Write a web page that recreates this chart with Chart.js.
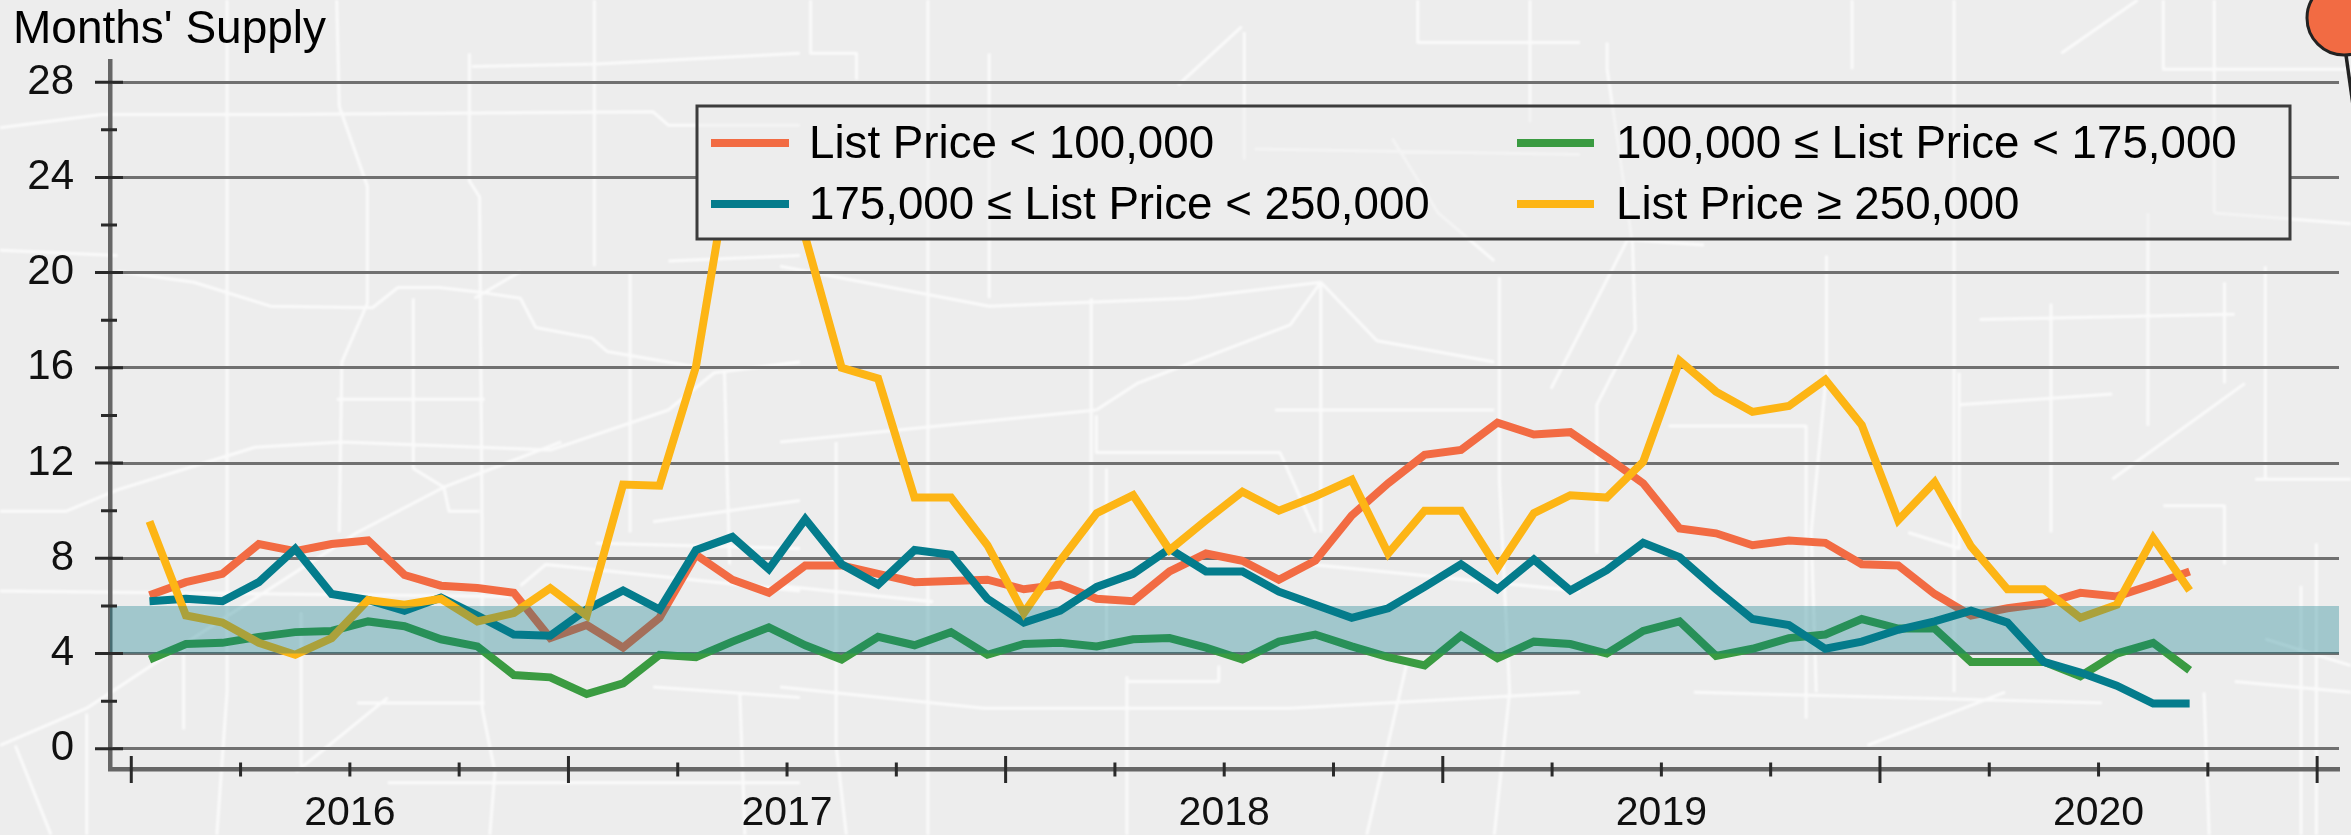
<!DOCTYPE html>
<html>
<head>
<meta charset="utf-8">
<title>Months' Supply</title>
<script src="https://cdn.jsdelivr.net/npm/chart.js@4"></script>
<style>html,body{margin:0;padding:0;background:#ececec}canvas{display:block}</style>
</head>
<body>
<canvas id="c" width="2351" height="835"></canvas>
<script>
const months = ['2015-07','2015-08','2015-09','2015-10','2015-11','2015-12',
 '2016-01','2016-02','2016-03','2016-04','2016-05','2016-06','2016-07','2016-08','2016-09','2016-10','2016-11','2016-12',
 '2017-01','2017-02','2017-03','2017-04','2017-05','2017-06','2017-07','2017-08','2017-09','2017-10','2017-11','2017-12',
 '2018-01','2018-02','2018-03','2018-04','2018-05','2018-06','2018-07','2018-08','2018-09','2018-10','2018-11','2018-12',
 '2019-01','2019-02','2019-03','2019-04','2019-05','2019-06','2019-07','2019-08','2019-09','2019-10','2019-11','2019-12',
 '2020-01','2020-02','2020-03'];
const under100k = [6.45,7.0,7.35,8.6,8.3,8.6,8.75,7.3,6.85,6.75,6.55,4.65,5.2,4.25,5.5,8.15,7.1,6.55,
 7.7,7.7,7.35,7.0,7.05,7.1,6.7,6.9,6.3,6.2,7.45,8.2,7.9,7.1,7.9,9.8,11.15,12.35,12.55,13.7,13.2,13.3,
 12.25,11.15,9.25,9.05,8.55,8.75,8.65,7.75,7.7,6.5,5.6,5.9,6.1,6.55,6.4,6.9,7.45];
const from100kTo175k = [3.75,4.4,4.45,4.7,4.9,4.95,5.35,5.15,4.6,4.3,3.1,3.0,2.3,2.75,3.95,3.85,4.5,5.1,
 4.35,3.75,4.7,4.35,4.9,3.95,4.4,4.45,4.3,4.6,4.65,4.25,3.75,4.5,4.8,4.3,3.85,3.5,4.75,3.8,4.5,4.4,
 4.0,4.95,5.35,3.9,4.2,4.65,4.8,5.45,5.05,5.05,3.65,3.65,3.65,3.05,4.0,4.45,3.3];
const from175kTo250k = [6.2,6.3,6.2,7.0,8.4,6.5,6.25,5.8,6.35,5.6,4.8,4.75,5.85,6.65,5.85,8.35,8.9,7.55,
 9.65,7.75,6.9,8.35,8.15,6.3,5.3,5.8,6.8,7.35,8.4,7.45,7.45,6.6,6.05,5.5,5.9,6.8,7.75,6.7,7.95,6.65,
 7.5,8.65,8.05,6.7,5.45,5.2,4.2,4.5,5.0,5.35,5.8,5.3,3.65,3.2,2.65,1.9,1.9];
const over250k = [9.55,5.6,5.3,4.45,3.95,4.65,6.25,6.05,6.3,5.35,5.7,6.75,5.6,11.1,11.05,16.05,25.2,26.2,
 21.5,16.0,15.55,10.55,10.55,8.55,5.7,7.9,9.9,10.65,8.35,9.6,10.8,10.0,10.6,11.3,8.2,10.0,10.0,7.6,9.9,10.65,
 10.55,12.05,16.3,15.0,14.15,14.4,15.5,13.6,9.6,11.2,8.5,6.7,6.7,5.5,6.05,8.85,6.65];
const seriesNames = ['List Price < 100,000','100,000 \u2264 List Price < 175,000','175,000 \u2264 List Price < 250,000','List Price \u2265 250,000'];
const seriesColors = ['#f26b43','#3a9b41','#047c8c','#fdb515'];
const yTickValues = [0,2,4,6,8,10,12,14,16,18,20,22,24,26,28];
const xTickValues = [-0.5,2.5,5.5,8.5,11.5,14.5,17.5,20.5,23.5,26.5,29.5,32.5,35.5,38.5,41.5,44.5,47.5,50.5,53.5,56.5,59.5];
const yearLabels = {5.5:'2016',17.5:'2017',29.5:'2018',41.5:'2019',53.5:'2020'};
const balancedMarket = [4,6];
const yLimits = [-0.87,28.88];
const xLimits = [-1.084,60.1];
const FONT = '"Liberation Sans", Arial, sans-serif';

// Decorative street-map backdrop: [panel x offset, polyline in panel units (1.96 / 1.878 px)]
const roadsMain = [
 [0,[0,240,200,215,550,215,1280,210,1310,235,1568,235]],
 [0,[230,510,380,530,530,575,730,578,780,540,860,540,950,550,1020,560,1050,615,1160,635,1190,660,1370,690]],
 [0,[445,0,445,1300,425,1568]],[0,[660,0,665,200,720,350,720,570,670,680,665,1000]],
 [0,[920,100,920,340,940,370,945,1000,945,1330,970,1450,960,1568]],[0,[1165,0,1165,500]],[0,[1235,510,1235,1000]],
 [0,[0,960,130,960,230,920,500,840,670,830,1080,845,1310,770,1400,700,1568,680]],
 [0,[0,1400,170,1330,360,1210,700,1000,870,915,1100,830]],[0,[30,1400,100,1568]],[0,[170,1340,170,1568]],[0,[360,1210,360,1370]],
 [0,[660,750,950,750]],[0,[810,560,810,880,870,915,880,960,940,960]],[0,[700,1320,950,1320]],[0,[760,1310,580,1450]],
 [0,[1168,1020,1568,1030]],[0,[1020,1100,1070,1060,1568,1110]],[0,[590,1150,590,1440]],[0,[0,1110,1000,1120]],
 [0,[760,1470,1568,1470]],[0,[1280,980,1568,940]],[0,[1420,700,1430,1060]],[0,[0,470,230,480]],[0,[1020,510,930,560]],
 [0,[925,125,1170,120,1568,100]],[0,[1310,490,1568,480]],[0,[1280,1290,1568,1310]],[0,[1450,1300,1460,1568]],
 [780,[290,0,290,1568]],[780,[110,830,110,1400,130,1568]],[780,[610,560,610,1130]],[780,[1060,530,1060,1000]],
 [780,[1410,520,1410,900,1430,1300,1400,1568]],[780,[60,0,60,100,150,100,150,150]],[780,[910,60,910,300]],[780,[905,50,780,160]],
 [780,[0,500,410,575,800,560,1060,530,1170,640,1400,680]],[780,[620,780,620,850,980,850,1050,1000]],
 [780,[620,770,700,720,1000,610,1060,530]],[780,[0,830,620,770]],[780,[970,770,1400,770]],[780,[640,880,640,1230]],
 [780,[0,1100,300,1130]],[780,[1040,1060,1568,1110]],[780,[0,1290,400,1330,1000,1330,1568,1300]],
 [780,[680,1270,680,1568]],[780,[860,1250,860,1280,680,1280]],[780,[1230,1240,1150,1568]],[780,[410,100,410,560]],
 [780,[1250,0,1250,80,1568,80]],[780,[930,280,1568,290]],[780,[1200,260,1290,400,1400,490]],[780,[1470,0,1470,230]],
 [1551,[0,730,150,450,300,460]],[1551,[110,80,110,130,160,460,165,620,90,760,90,1040]],[1551,[590,0,590,130]],
 [1551,[790,0,790,1300]],[1551,[540,480,540,700,510,1000,520,1300]],[1551,[980,570,980,1000]],[1551,[1170,400,1170,800]],
 [1551,[1320,530,1320,720]],[1551,[840,600,1340,590]],[1551,[1100,740,800,760]],[1551,[700,1000,800,1030,800,700]],
 [1551,[1360,720,1100,900]],[1551,[1200,950,1320,950,1320,1060]],[1551,[230,800,500,800,500,1350]],[1551,[280,1300,1080,1320]],
 [1551,[620,1400,890,1300]],[1551,[1380,900,1568,900]],[1551,[1400,1200,1568,1250]],[1551,[1500,1020,1500,1568]],
 [1551,[1470,1100,1470,1568]],[1551,[1340,1280,1568,1300]],[1551,[1300,0,1300,400]],[1551,[1000,100,1150,0]],
 [1551,[1200,0,1200,130,1568,130]],[1551,[1300,400,1568,420]],[1551,[1400,500,1400,900]],[1551,[1280,1300,1290,1568]]
];

function traceRoads(ctx){
  ctx.beginPath();
  for(const [off,p] of roadsMain){
    for(let i=0;i<p.length;i+=2){
      const x=off+p[i]/1.96,y=p[i+1]/1.878;
      if(i===0)ctx.moveTo(x,y);else ctx.lineTo(x,y);
    }
  }
}
const mapBackdrop = {
  id:'mapBackdrop',
  beforeDraw(chart){
    const ctx=chart.ctx;
    ctx.save();
    ctx.fillStyle='#ededed';
    ctx.fillRect(0,0,chart.width,chart.height);
    ctx.filter='blur(0.8px)';
    ctx.strokeStyle='rgba(255,255,255,0.75)';
    ctx.lineWidth=3;
    ctx.lineJoin='round';
    traceRoads(ctx);
    ctx.stroke();
    ctx.restore();
  }
};
const axisTicks = {
  id:'axisTicks',
  afterDatasetsDraw(chart){
    const ctx=chart.ctx,xs=chart.scales.x,ys=chart.scales.y;
    const xAxisY=xs.top,yAxisX=ys.right;
    ctx.save();
    ctx.strokeStyle='#2a2a2a';
    ctx.lineWidth=3;
    ctx.beginPath();
    xTickValues.forEach((v,i)=>{
      const x=xs.getPixelForValue(v),h=i%4===0?13.5:7;
      ctx.moveTo(x,xAxisY-h);ctx.lineTo(x,xAxisY+h);
    });
    yTickValues.forEach(v=>{
      const y=ys.getPixelForValue(v);
      if(v%4===0){ctx.moveTo(yAxisX-15,y);ctx.lineTo(yAxisX+13,y);}
      else{ctx.moveTo(yAxisX-9,y);ctx.lineTo(yAxisX+7,y);}
    });
    ctx.stroke();
    ctx.restore();
  }
};
const legendBox = {
  id:'legendBox',
  afterDraw(chart){
    const ctx=chart.ctx;
    const L=697,T=106,R=2290,B=239;
    ctx.save();
    ctx.beginPath();ctx.rect(L,T,R-L,B-T);ctx.clip();
    ctx.fillStyle='#ededed';ctx.fillRect(L,T,R-L,B-T);
    ctx.filter='blur(0.8px)';
    ctx.strokeStyle='rgba(255,255,255,0.4)';ctx.lineWidth=3;
    traceRoads(ctx);ctx.stroke();
    ctx.restore();
    ctx.save();
    ctx.strokeStyle='#3c3c3c';ctx.lineWidth=3;
    ctx.strokeRect(L,T,R-L,B-T);
    const cells=[[711,789,809,143,0],[1517,1594,1616,143,1],[711,789,809,204,2],[1517,1594,1616,204,3]];
    ctx.font='45.7px '+FONT;
    ctx.textBaseline='middle';ctx.textAlign='left';
    for(const [x0,x1,tx,y,k] of cells){
      ctx.strokeStyle=seriesColors[k];ctx.lineWidth=8;
      ctx.beginPath();ctx.moveTo(x0,y);ctx.lineTo(x1,y);ctx.stroke();
      ctx.fillStyle='#000';
      ctx.fillText(chart.data.datasets[k].label,tx,y+2);
    }
    ctx.restore();
  }
};
const mapPin = {
  id:'mapPin',
  afterDraw(chart){
    const ctx=chart.ctx;
    ctx.save();
    ctx.strokeStyle='#222';ctx.lineWidth=3.5;
    ctx.beginPath();ctx.moveTo(2346,55);ctx.lineTo(2353,105);ctx.stroke();
    ctx.fillStyle='#f26b43';ctx.lineWidth=3;
    ctx.beginPath();ctx.arc(2344,18,37,0,Math.PI*2);ctx.fill();ctx.stroke();
    ctx.restore();
  }
};
const toPoints = a => a.map((v,i)=>({x:i,y:v}));
const seriesValues = [under100k,from100kTo175k,from175kTo250k,over250k];
const datasets = seriesValues.map((vals,k)=>({
  label:seriesNames[k],
  data:toPoints(vals),
  borderColor:seriesColors[k],
  backgroundColor:seriesColors[k],
  borderWidth:8,
  pointRadius:0,
  tension:0,
  fill:false,
  borderJoinStyle:'miter',
  order:4-k
}));
datasets.push({
  label:'Balanced market',
  data:[{x:xLimits[0],y:balancedMarket[1]},{x:xLimits[1],y:balancedMarket[1]}],
  borderWidth:0,
  borderColor:'rgba(0,0,0,0)',
  backgroundColor:'rgba(7,122,138,0.33)',
  pointRadius:0,
  fill:{value:balancedMarket[0]},
  order:0
});
new Chart(document.getElementById('c'),{
  type:'line',
  data:{labels:months,datasets},
  plugins:[mapBackdrop,axisTicks,legendBox,mapPin],
  options:{
    responsive:false,
    animation:false,
    layout:{padding:{left:13,right:12,top:0,bottom:0}},
    plugins:{
      legend:{display:false},
      tooltip:{enabled:false},
      title:{display:true,text:"Months' Supply",align:'start',color:'#000',
        font:{family:FONT,size:46,weight:'normal'},padding:{top:0,bottom:3}}
    },
    scales:{
      x:{
        type:'linear',min:xLimits[0],max:xLimits[1],
        afterFit(s){s.height=65.5;},
        afterBuildTicks(s){s.ticks=xTickValues.map(v=>({value:v}));},
        grid:{display:true,drawOnChartArea:false,drawTicks:false},
        border:{display:true,color:'#666',width:4.5},
        ticks:{autoSkip:false,maxRotation:0,minRotation:0,padding:20,color:'#111',
          font:{family:FONT,size:41},
          callback:v=>yearLabels[v]||''}
      },
      y:{
        min:yLimits[0],max:yLimits[1],
        afterFit(s){s.width=97;},
        afterBuildTicks(s){s.ticks=yTickValues.map(v=>({value:v}));},
        grid:{drawTicks:false,lineWidth:3,
          color:c=>(c.tick&&c.tick.value%4===0)?'#707070':'rgba(0,0,0,0)'},
        border:{display:true,color:'#666',width:4.5},
        ticks:{autoSkip:false,padding:36,color:'#111',
          font:{family:FONT,size:42},
          callback:v=>v%4===0?String(v):''}
      }
    }
  }
});
</script>
</body>
</html>
